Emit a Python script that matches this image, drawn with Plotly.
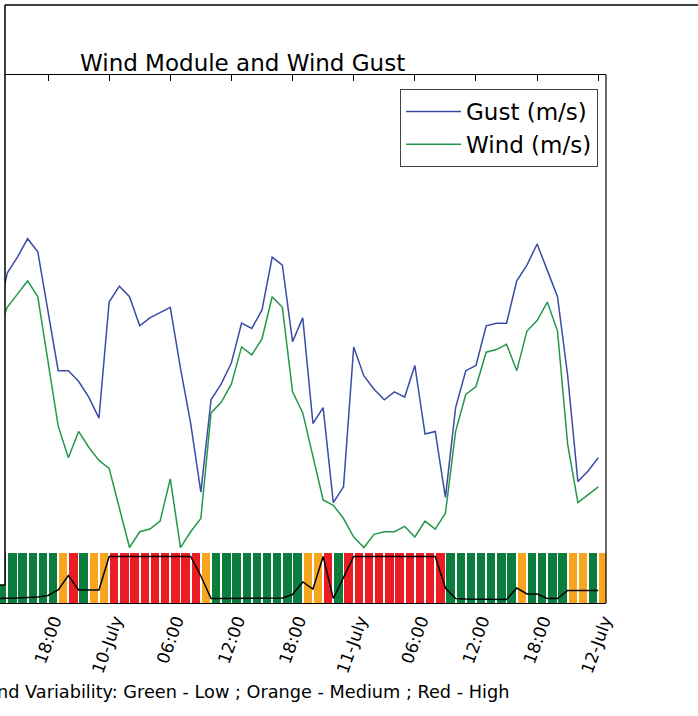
import pandas as pd
import plotly.graph_objects as go

# ---------------- data ----------------
TIMES = pd.date_range("2013-07-09 13:00", "2013-07-12 00:00", freq="h")  # hourly, 60 stamps

GUST = [10.7, 12.5, 13.1, 13.8, 13.3, 11.0, 8.8, 8.8, 8.4, 7.8, 7.0,
        11.4, 12.0, 11.6, 10.5, 10.8, 11.0, 11.2, 8.9, 6.8, 4.2,
        7.7, 8.3, 9.1, 10.6, 10.4, 11.1, 13.1, 12.8, 9.9, 10.8,
        6.8, 7.4, 3.8, 4.4, 9.7, 8.6, 8.1, 7.7, 8.0, 7.8,
        9.0, 6.4, 6.5, 4.0, 7.4, 8.8, 9.0, 10.5, 10.6, 10.6,
        12.2, 12.8, 13.6, 12.6, 11.6, 8.6, 4.6, 5.0, 5.5]

WIND = [10.2, 11.2, 11.7, 12.2, 11.6, 9.1, 6.7, 5.5, 6.5, 5.9, 5.4,
        5.1, 3.6, 2.1, 2.7, 2.8, 3.1, 4.7, 2.1, 2.7, 3.2,
        7.2, 7.6, 8.3, 9.7, 9.4, 10.0, 11.6, 11.2, 8.0, 7.2,
        5.5, 3.9, 3.7, 3.2, 2.5, 2.1, 2.6, 2.7, 2.7, 2.9,
        2.5, 3.1, 2.8, 3.4, 6.5, 7.9, 8.2, 9.5, 9.6, 9.8,
        8.8, 10.3, 10.7, 11.4, 10.3, 6.0, 3.8, 4.1, 4.4]

VAR_INDEX = [0.09, 0.09, 0.10, 0.11, 0.12, 0.15, 0.26, 0.55, 0.26, 0.26, 0.26,
             0.93, 0.93, 0.93, 0.93, 0.93, 0.93, 0.93, 0.93, 0.93, 0.54,
             0.09, 0.09, 0.09, 0.09, 0.09, 0.09, 0.09, 0.10, 0.17, 0.42,
             0.28, 0.93, 0.09, 0.50, 0.93, 0.93, 0.93, 0.93, 0.93, 0.93,
             0.93, 0.93, 0.93, 0.30, 0.09, 0.08, 0.08, 0.08, 0.08, 0.07,
             0.30, 0.18, 0.18, 0.09, 0.09, 0.25, 0.25, 0.25, 0.25]

LEVELS = (["Low"] * 6 + ["Medium", "High", "Low", "Medium", "Medium"]
          + ["High"] * 9 + ["Medium"] + ["Low"] * 9
          + ["Medium", "Medium", "High", "Low"] + ["High"] * 10
          + ["Low"] * 7 + ["Medium"] + ["Low"] * 4
          + ["Medium", "Medium", "Low", "Medium"])

TICK_VALS = ["2013-07-09 18:00", "2013-07-10 00:00", "2013-07-10 06:00",
             "2013-07-10 12:00", "2013-07-10 18:00", "2013-07-11 00:00",
             "2013-07-11 06:00", "2013-07-11 12:00", "2013-07-11 18:00",
             "2013-07-12 00:00"]
TICK_TEXT = ["18:00", "10-July", "06:00", "12:00", "18:00", "11-July",
             "06:00", "12:00", "18:00", "12-July"]

LEVEL_COLORS = {"Low": "#0b7d3e", "Medium": "#f7a51e", "High": "#ec1c24"}

# ---------------- layout geometry ----------------
W, H = 698, 716
L, R, T, B = 0, 92, 75, 113
PW, PH = W - L - R, H - T - B
FONT = "DejaVu Sans"

def px_x(px):
    return (px - L) / PW

def px_y(py):
    return (H - B - py) / PH

fig = go.Figure()

fig.add_trace(go.Scatter(x=TIMES, y=GUST, mode="lines", name="Gust (m/s)",
                         line=dict(color="#3a4ca3", width=1.5)))
fig.add_trace(go.Scatter(x=TIMES, y=WIND, mode="lines", name="Wind (m/s)",
                         line=dict(color="#24984a", width=1.5)))

bar_centers = TIMES + pd.Timedelta(minutes=30)
fig.add_trace(go.Bar(x=bar_centers, y=[1] * len(LEVELS),
                     width=0.82 * 3600 * 1000,
                     marker=dict(color=[LEVEL_COLORS[l] for l in LEVELS], line=dict(width=0)),
                     yaxis="y2", showlegend=False, hoverinfo="skip"))
fig.add_trace(go.Scatter(x=TIMES, y=VAR_INDEX, mode="lines", yaxis="y2",
                         line=dict(color="black", width=1.5), showlegend=False))

band_top = 50 / PH

fig.update_layout(
    width=W, height=H,
    margin=dict(l=L, r=R, t=T, b=B, pad=0),
    paper_bgcolor="white", plot_bgcolor="white",
    font=dict(family=FONT, color="black"),
    bargap=0,
    xaxis=dict(type="date",
               range=["2013-07-09 13:17:24", "2013-07-12 00:45:30"],
               tickvals=TICK_VALS, ticktext=TICK_TEXT, tickangle=-70,
               tickfont=dict(size=17, family=FONT, color="black"),
               ticklabelshift=6,
               showgrid=False, zeroline=False,
               showline=True, mirror="ticks", linecolor="black", linewidth=1.2,
               ticks="inside", ticklen=6, tickcolor="black"),
    yaxis=dict(domain=[0, 1], range=[0, 20], showgrid=False, zeroline=False,
               showticklabels=False, ticks=""),
    yaxis2=dict(domain=[0, band_top], range=[0, 1], anchor="x",
                showgrid=False, zeroline=False, showticklabels=False, ticks=""),
    legend=dict(x=px_x(598), y=px_y(89), xanchor="right", yanchor="top",
                font=dict(size=23, family=FONT, color="black"),
                bgcolor="white", bordercolor="#444", borderwidth=1,
                itemwidth=55),
    showlegend=True,
)

fig.add_annotation(text="Wind Module and Wind Gust", x=px_x(242), y=px_y(63),
                   xref="paper", yref="paper", xanchor="center", yanchor="middle",
                   showarrow=False, font=dict(size=23, family=FONT, color="black"))
fig.add_annotation(text="Wind Variability: Green - Low ; Orange - Medium ; Red - High",
                   x=px_x(511), y=px_y(692), xref="paper", yref="paper",
                   xanchor="right", yanchor="middle", showarrow=False,
                   font=dict(size=17.7, family=FONT, color="black"))

# right spine
fig.add_shape(type="line", xref="paper", yref="paper", x0=1, x1=1, y0=0, y1=1,
              line=dict(color="black", width=1.2), layer="above")
# outer frame fragments (cropped neighbouring panel)
fig.add_shape(type="rect", xref="paper", yref="paper",
              x0=px_x(-20), x1=px_x(5), y0=px_y(585), y1=px_y(5),
              fillcolor="white", line=dict(width=0), layer="above")
fig.add_shape(type="line", xref="paper", yref="paper",
              x0=px_x(5), x1=px_x(5), y0=px_y(585), y1=px_y(5),
              line=dict(color="black", width=1.5), layer="above")
fig.add_shape(type="line", xref="paper", yref="paper",
              x0=px_x(-20), x1=px_x(5), y0=px_y(585), y1=px_y(585),
              line=dict(color="black", width=1.5), layer="above")
fig.add_shape(type="line", xref="paper", yref="paper",
              x0=px_x(5), x1=px_x(720), y0=px_y(5), y1=px_y(5),
              line=dict(color="black", width=1.5), layer="above")

fig.write_html("out.html")
